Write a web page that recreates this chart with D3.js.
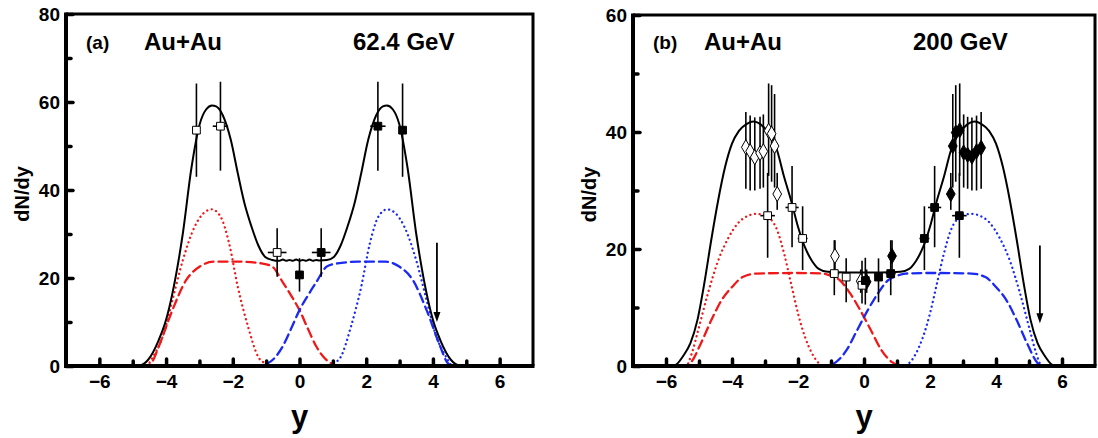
<!DOCTYPE html>
<html lang="en">
<head>
<meta charset="UTF-8">
<title>dN/dy Au+Au</title>
<script src="https://d3js.org/d3.v7.min.js"></script>
<style>
  body { margin: 0; background: #fff; }
  svg text { font-family: "Liberation Sans", Arial, sans-serif; font-weight: bold; fill: #000; }
</style>
</head>
<body>
<div id="chart"></div>
<script>
// ---------- panel (a) 62.4 GeV ----------
const aTotal = [[-6,0],[-5,0],[-4.8,0.1],[-4.55,1.3],[-4.22,5.9],[-4.0,10.5],[-3.81,16.5],[-3.5,30],[-3.24,45],[-2.99,55],[-2.8,58.3],[-2.62,59.2],[-2.5,59],[-2.3,57],[-2.06,51.4],[-1.85,43.8],[-1.65,37],[-1.44,31.7],[-1.24,27.5],[-1.03,24.8],[-0.82,24.1],[-0.6,23.9],[-0.5,24.2],[-0.4,23.9],[-0.3,24.1],[-0.2,23.9],[-0.1,24.2],[0,23.9],[0.1,24.1],[0.2,23.9],[0.3,24.2],[0.4,23.9],[0.5,24.1],[0.6,24.0],[0.82,24.1],[1.03,24.8],[1.24,27.5],[1.44,31.7],[1.65,37],[1.85,43.8],[2.06,51.4],[2.3,57],[2.5,59],[2.62,59.2],[2.8,58.3],[2.99,55],[3.24,45],[3.5,30],[3.81,16.5],[4.0,10.5],[4.22,5.9],[4.55,1.3],[4.8,0.1],[5,0],[6,0]];
const aRedDot = [[-6,0],[-4.6,0],[-4.4,2],[-4.07,7.4],[-3.81,15],[-3.5,24],[-3.14,31.7],[-2.88,34.7],[-2.63,35.6],[-2.37,34],[-2.11,27.9],[-1.85,18],[-1.54,8.9],[-1.24,2.1],[-1.03,0.6],[-0.9,0],[6,0]];
const aRedDash = [[-6,0],[-4.6,0],[-4.43,0.8],[-4.22,4.4],[-3.81,12.7],[-3.4,19.5],[-2.99,22.6],[-2.57,23.7],[-1.75,23.7],[-1.13,23.3],[-0.82,22.6],[-0.5,19],[-0.25,16],[0,12.7],[0.25,8.5],[0.5,4.5],[0.75,1.8],[1.0,0.4],[1.2,0],[6,0]];
const aBlueDot = [[-6,0],[0.9,0],[1.03,0.6],[1.24,2.1],[1.54,8.9],[1.85,18],[2.11,27.9],[2.37,34],[2.63,35.6],[2.88,34.7],[3.14,31.7],[3.5,24],[3.81,15],[4.07,7.4],[4.4,2],[4.6,0],[6,0]];
const aBlueDash = [[-6,0],[-1.2,0],[-1.0,0.4],[-0.75,1.8],[-0.5,4.5],[-0.25,8.5],[0,12.7],[0.25,16],[0.5,19],[0.82,22.6],[1.13,23.3],[1.75,23.7],[2.57,23.7],[2.99,22.6],[3.4,19.5],[3.81,12.7],[4.22,4.4],[4.43,0.8],[4.6,0],[6,0]];
const aOpenSquares = [
  {x:-3.09, v:53.6, lo:43.0, hi:64.2, xe:0},
  {x:-2.37, v:54.5, lo:44.4, hi:64.6, xe:0.23},
  {x:-0.67, v:25.8, lo:20.3, hi:31.3, xe:0.28}
];
const aFilledSquares = [
  {x:0, v:20.7, lo:16.9, hi:24.5, xe:0},
  {x:0.65, v:25.8, lo:20.3, hi:31.3, xe:0.28},
  {x:2.35, v:54.5, lo:44.4, hi:64.6, xe:0.23},
  {x:3.09, v:53.6, lo:43.0, hi:64.2, xe:0}
];
const aArrow = {x:4.12, from:28, to:10};
const aTexts = ["(a)", "Au+Au", "62.4 GeV"];

// ---------- panel (b) 200 GeV ----------
const bTotal = [[-6,0],[-5.8,0],[-5.68,0.3],[-5.47,1.8],[-5.26,3.9],[-5.05,7.8],[-4.84,14.1],[-4.63,21.5],[-4.42,28.3],[-4.21,34],[-4.0,38],[-3.79,40.2],[-3.55,41.4],[-3.35,41.8],[-3.15,41.4],[-3.0,40.6],[-2.84,39.7],[-2.63,36.8],[-2.42,32.3],[-2.21,28.3],[-2.0,23.8],[-1.79,20.3],[-1.58,18],[-1.37,16.6],[-1.1,16.1],[-0.5,16],[0,16],[0.5,16],[1.1,16.1],[1.37,16.6],[1.58,18],[1.79,20.3],[2.0,23.8],[2.21,28.3],[2.42,32.3],[2.63,36.8],[2.84,39.7],[3.0,40.6],[3.15,41.4],[3.35,41.8],[3.55,41.4],[3.79,40.2],[4.0,38],[4.21,34],[4.42,28.3],[4.63,21.5],[4.84,14.1],[5.05,7.8],[5.26,3.9],[5.47,1.8],[5.68,0.3],[5.8,0],[6,0]];
const bRedDot = [[-6,0],[-5.4,0],[-5.2,2.5],[-5.05,5.6],[-4.73,12.4],[-4.42,18],[-4.1,22],[-3.79,24.6],[-3.5,25.7],[-3.26,26],[-3.0,25.8],[-2.84,25.2],[-2.63,23.2],[-2.42,19.2],[-2.21,14.1],[-2.0,9],[-1.79,5],[-1.58,2.2],[-1.37,0.5],[-1.2,0],[6,0]];
const bRedDash = [[-6,0],[-5.4,0],[-5.26,0.5],[-4.94,3.9],[-4.63,7.8],[-4.31,11.3],[-4.0,13.5],[-3.68,15.2],[-3.26,15.8],[-2.1,15.9],[-1.26,15.8],[-0.95,15.3],[-0.74,14.7],[-0.42,12.4],[-0.11,9.5],[0.21,6.1],[0.53,2.7],[0.84,0.7],[1.16,0],[6,0]];
const bBlueDot = [[-6,0],[1.2,0],[1.37,0.5],[1.58,2.2],[1.79,5],[2.0,9],[2.21,14.1],[2.42,19.2],[2.63,23.2],[2.84,25.2],[3.0,25.8],[3.26,26],[3.5,25.7],[3.79,24.6],[4.1,22],[4.42,18],[4.73,12.4],[5.05,5.6],[5.2,2.5],[5.4,0],[6,0]];
const bBlueDash = [[-6,0],[-1.16,0],[-0.84,0.7],[-0.53,2.7],[-0.21,6.1],[0.11,9.5],[0.42,12.4],[0.74,14.7],[0.95,15.3],[1.26,15.8],[2.1,15.9],[3.26,15.8],[3.68,15.2],[4.0,13.5],[4.31,11.3],[4.63,7.8],[4.94,3.9],[5.26,0.5],[5.4,0],[6,0]];
const bOpenDiamonds = [
  {x:-3.58, v:37.4, lo:30.3, hi:43.4}, {x:-3.45, v:36.7, lo:30.0, hi:42.8},
  {x:-3.31, v:35.7, lo:30.0, hi:42.5}, {x:-3.15, v:36.4, lo:30.3, hi:42.6},
  {x:-3.05, v:36.7, lo:30.5, hi:43.0}, {x:-2.89, v:40.2, lo:32.5, hi:48.3},
  {x:-2.80, v:39.7, lo:31.5, hi:48.0}, {x:-2.71, v:37.6, lo:30.5, hi:46.5},
  {x:-2.63, v:29.4, lo:26.7, hi:33.0}, {x:-0.88, v:18.8, lo:15.5, hi:21.5},
  {x:-0.10, v:14.5, lo:12.5, hi:16.5}
];
const bOpenSquares = [
  {x:-2.92, v:25.7, lo:18.5, hi:33.0, xe:0.22}, {x:-2.18, v:27.1, lo:20.3, hi:34.2, xe:0.2},
  {x:-1.86, v:21.8, lo:16.4, hi:27.3, xe:0.15}, {x:-0.90, v:15.8, lo:12.1, hi:21.5, xe:0.15},
  {x:-0.54, v:15.2, lo:10.9, hi:18.4, xe:0.1},  {x:-0.06, v:13.8, lo:10.7, hi:18.0, xe:0}
];
const bFilledSquares = [
  {x:0.04, v:14.6, lo:10.5, hi:18.5, xe:0},   {x:0.44, v:15.2, lo:10.9, hi:18.4, xe:0.1},
  {x:0.81, v:15.8, lo:12.1, hi:21.5, xe:0.15}, {x:1.83, v:21.8, lo:16.4, hi:27.3, xe:0.15},
  {x:2.14, v:27.1, lo:20.3, hi:34.2, xe:0.2},  {x:2.89, v:25.7, lo:18.5, hi:33.0, xe:0.22}
];
const bFilledDiamonds = [
  {x:0.08, v:14.4, lo:12.5, hi:16.5}, {x:0.85, v:18.8, lo:15.5, hi:21.5},
  {x:2.63, v:29.4, lo:26.7, hi:33.0}, {x:2.69, v:37.6, lo:30.5, hi:46.5},
  {x:2.78, v:39.9, lo:31.5, hi:48.0}, {x:2.90, v:40.3, lo:32.5, hi:48.3},
  {x:3.02, v:36.5, lo:30.5, hi:43.0}, {x:3.14, v:36.1, lo:30.3, hi:42.6},
  {x:3.27, v:35.8, lo:30.0, hi:42.5}, {x:3.41, v:36.7, lo:30.0, hi:42.8},
  {x:3.55, v:37.3, lo:30.3, hi:43.4}
];
const bArrow = {x:5.33, from:20.6, to:7.3};
const bTexts = ["(b)", "Au+Au", "200 GeV"];

const xMajor = [-6, -4, -2, 0, 2, 4, 6];
const xMinor = [-5, -3, -1, 1, 3, 5];

const panels = [
  {left:66, right:533, top:14, bottom:366, ymax:80, yMajor:[0,20,40,60,80], yMinor:[10,30,50,70],
   total:aTotal, redDot:aRedDot, redDash:aRedDash, blueDot:aBlueDot, blueDash:aBlueDash,
   openSq:aOpenSquares, fillSq:aFilledSquares, openDi:[], fillDi:[], arrow:aArrow,
   texts:aTexts, textX:[86, 144, 353], ylabX:22},
  {left:633, right:1095, top:15, bottom:366, ymax:60, yMajor:[0,20,40,60], yMinor:[10,30,50],
   total:bTotal, redDot:bRedDot, redDash:bRedDash, blueDot:bBlueDot, blueDash:bBlueDash,
   openSq:bOpenSquares, fillSq:bFilledSquares, openDi:bOpenDiamonds, fillDi:bFilledDiamonds, arrow:bArrow,
   texts:bTexts, textX:[653, 704, 913], ylabX:589}
];

const RED = "#f01818", BLUE = "#1a2af0";

const svg = d3.select("#chart").append("svg")
  .attr("width", 1098).attr("height", 438);
svg.append("rect").attr("width", 1098).attr("height", 438).attr("fill", "#fff");

panels.forEach(p => {
  const x = d3.scaleLinear().domain([-7, 7]).range([p.left, p.right]);
  const y = d3.scaleLinear().domain([0, p.ymax]).range([p.bottom, p.top]);
  const g = svg.append("g");

  const line = d3.line().x(d => x(d[0])).y(d => y(d[1])).curve(d3.curveMonotoneX);

  // component curves
  const comps = [
    {data:p.redDash, color:RED, dash:"9,5"},
    {data:p.blueDash, color:BLUE, dash:"9,5"},
    {data:p.redDot, color:RED, dash:"0.1,4.6"},
    {data:p.blueDot, color:BLUE, dash:"0.1,4.6"}
  ];
  comps.forEach(c => {
    g.append("path").datum(c.data)
      .attr("fill", "none").attr("stroke", c.color).attr("stroke-width", 2.3)
      .attr("stroke-dasharray", c.dash).attr("stroke-linecap", "round")
      .attr("d", line);
  });

  g.append("path").datum(p.total)
    .attr("fill", "none").attr("stroke", "#000").attr("stroke-width", 2)
    .attr("d", line);

  // axes: ticks point inward
  g.append("g").attr("transform", `translate(0,${p.bottom})`)
    .call(d3.axisBottom(x).tickValues(xMajor).tickSizeInner(-7).tickSizeOuter(0).tickPadding(9));
  g.append("g").attr("transform", `translate(0,${p.bottom})`)
    .call(d3.axisBottom(x).tickValues(xMinor).tickSizeInner(-5).tickSizeOuter(0).tickFormat(""));
  g.append("g").attr("transform", `translate(${p.left},0)`)
    .call(d3.axisLeft(y).tickValues(p.yMajor).tickSizeInner(-7).tickSizeOuter(0).tickPadding(6));
  g.append("g").attr("transform", `translate(${p.left},0)`)
    .call(d3.axisLeft(y).tickValues(p.yMinor).tickSizeInner(-5).tickSizeOuter(0).tickFormat(""));
  g.selectAll(".domain").remove();
  g.selectAll(".tick line").attr("stroke", "#000").attr("stroke-width", 3.5).attr("stroke-linecap", "round");
  g.selectAll(".tick text").style("font-size", "19px").style("font-family", "Liberation Sans, Arial, sans-serif").style("font-weight", "bold");

  // frame
  g.append("path")
    .attr("d", `M${p.left},${p.top}H${p.right}V${p.bottom}`)
    .attr("fill", "none").attr("stroke", "#000").attr("stroke-width", 3);
  g.append("path")
    .attr("d", `M${p.left},${p.top - 1.5}V${p.bottom}H${p.right + 1.5}`)
    .attr("fill", "none").attr("stroke", "#000").attr("stroke-width", 4);

  // error bars
  const pts = [].concat(p.openSq, p.fillSq, p.openDi, p.fillDi);
  g.selectAll(null).data(pts).enter().append("line")
    .attr("x1", d => x(d.x)).attr("x2", d => x(d.x))
    .attr("y1", d => y(d.lo)).attr("y2", d => y(d.hi))
    .attr("stroke", "#000").attr("stroke-width", 1.6);
  g.selectAll(null).data(pts.filter(d => d.xe)).enter().append("line")
    .attr("x1", d => x(d.x - d.xe)).attr("x2", d => x(d.x + d.xe))
    .attr("y1", d => y(d.v)).attr("y2", d => y(d.v))
    .attr("stroke", "#000").attr("stroke-width", 1.6);

  // markers
  const sq = d3.symbol().type(d3.symbolSquare).size(60);
  const di = d3.symbol().type(d3.symbolDiamond).size(66);
  const marks = [
    {data:p.openDi, sym:di, fill:"#fff"},
    {data:p.fillDi, sym:di, fill:"#000"},
    {data:p.openSq, sym:sq, fill:"#fff"},
    {data:p.fillSq, sym:sq, fill:"#000"}
  ];
  marks.forEach(m => {
    g.selectAll(null).data(m.data).enter().append("path")
      .attr("transform", d => `translate(${x(d.x)},${y(d.v)})`)
      .attr("d", m.sym)
      .attr("fill", m.fill).attr("stroke", "#000").attr("stroke-width", 1);
  });

  // arrow
  const ax = x(p.arrow.x), ay1 = y(p.arrow.from), ay2 = y(p.arrow.to);
  g.append("line").attr("x1", ax).attr("x2", ax).attr("y1", ay1).attr("y2", ay2 - 8)
    .attr("stroke", "#000").attr("stroke-width", 1.8);
  g.append("path")
    .attr("d", `M${ax - 3.5},${ay2 - 10}L${ax + 3.5},${ay2 - 10}L${ax},${ay2}Z`)
    .attr("fill", "#000");

  // labels
  g.append("text").attr("x", p.textX[0]).attr("y", 49).style("font-size", "19px").text(p.texts[0]);
  g.append("text").attr("x", p.textX[1]).attr("y", 50).style("font-size", "24px").text(p.texts[1]);
  g.append("text").attr("x", p.textX[2]).attr("y", 50).style("font-size", "24px").text(p.texts[2]);

  g.append("text")
    .attr("transform", `translate(${p.ylabX + 7},${(p.top + p.bottom) / 2 + 4}) rotate(-90)`)
    .attr("text-anchor", "middle").style("font-size", "20px").text("dN/dy");

  g.append("text")
    .attr("x", x(0)).attr("y", 427)
    .attr("text-anchor", "middle").style("font-size", "31px").text("y");
});
</script>
</body>
</html>
